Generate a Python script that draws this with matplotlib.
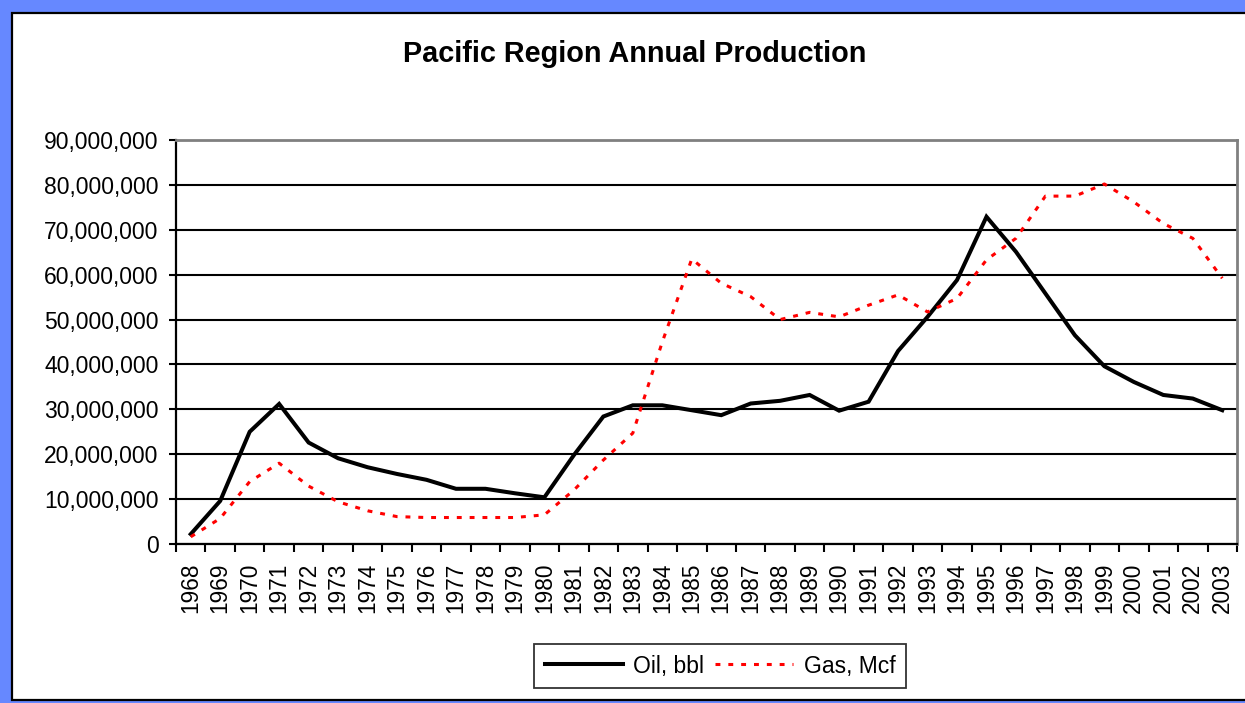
import matplotlib
matplotlib.use("Agg")
import matplotlib.pyplot as plt
from matplotlib.patches import Rectangle
from matplotlib.ticker import FuncFormatter, FixedLocator

plt.rcParams['font.family'] = ['Liberation Sans', 'DejaVu Sans']

years = list(range(1968, 2004))
oil = [2.2, 9.6, 25.0, 31.2, 22.6, 19.1, 17.1, 15.6, 14.3, 12.3, 12.3, 11.3, 10.4,
       19.8, 28.4, 30.9, 30.9, 29.8, 28.7, 31.3, 31.9, 33.2, 29.7, 31.7, 43.0, 50.6,
       58.8, 72.9, 65.1, 55.8, 46.5, 39.6, 36.1, 33.2, 32.4, 29.8]
gas = [1.6, 5.7, 13.9, 18.0, 12.9, 9.4, 7.4, 6.1, 5.9, 5.9, 5.9, 5.9, 6.5,
       12.0, 18.7, 24.7, 45.0, 63.5, 58.1, 55.1, 50.0, 51.6, 50.6, 53.2, 55.5, 51.7,
       54.7, 63.3, 68.1, 77.5, 77.5, 80.2, 76.2, 71.4, 68.1, 59.2]
oil = [v * 1e6 for v in oil]
gas = [v * 1e6 for v in gas]
yticks = [i * 10_000_000 for i in range(10)]

W, H = 1245, 703
fig = plt.figure(figsize=(W / 100, H / 100), dpi=100, facecolor='#6688FF')
# white chart area with black frame
fig.patches.append(Rectangle((11.5 / W, 3 / H), (W + 20) / W, (700 - 13) / H,
                             transform=fig.transFigure, facecolor='white',
                             edgecolor='black', linewidth=1.6, zorder=-5))

ax = fig.add_axes([176 / W, (H - 544) / H, (1237 - 176) / W, (544 - 140) / H])
ax.set_zorder(2)
x = list(range(len(years)))
ax.plot(x, oil, color='black', lw=2.9, solid_joinstyle='miter', label='Oil, bbl', zorder=3)
ax.plot(x, gas, color='red', lw=2.2, dashes=(1.6, 2.6), label='Gas, Mcf', zorder=3)

ax.set_xlim(-0.5, len(years) - 0.5)
ax.set_ylim(0, 90_000_000)
ax.set_yticks(yticks)
ax.yaxis.set_major_formatter(FuncFormatter(lambda v, p: f"{int(v):,}"))
ax.grid(axis='y', color='black', lw=1.5, zorder=1)

ax.xaxis.set_major_locator(FixedLocator([i - 0.5 for i in range(len(years) + 1)]))
ax.xaxis.set_minor_locator(FixedLocator(x))
ax.set_xticklabels([])
ax.set_xticklabels([str(y) for y in years], minor=True, rotation=90)
ax.tick_params(axis='x', which='minor', length=0, labelsize=16.3, pad=13.5)
ax.tick_params(axis='x', which='major', length=6, width=1.5, color='black')
ax.tick_params(axis='y', length=5, width=1.5, labelsize=16.5, pad=7.5)

for s in ['left', 'bottom']:
    ax.spines[s].set_color('black')
    ax.spines[s].set_linewidth(1.6)
for s in ['top', 'right']:
    ax.spines[s].set_color('#808080')
    ax.spines[s].set_linewidth(2)
ax.set_facecolor('none')

fig.text(635 / W, (H - 53.5) / H, 'Pacific Region Annual Production', ha='center', va='center',
         fontsize=20.8, fontweight='bold', zorder=5)

leg = fig.legend(loc='center', bbox_to_anchor=(720 / W, (H - 666) / H), ncol=2,
                 fontsize=16.5, frameon=True, fancybox=False, edgecolor='black',
                 handlelength=3.4, handletextpad=0.45, columnspacing=0.5,
                 borderpad=0.45, borderaxespad=0)
leg.get_frame().set_linewidth(1.3)
leg.set_zorder(5)

fig.savefig('out.png', dpi=100, facecolor=fig.get_facecolor())
